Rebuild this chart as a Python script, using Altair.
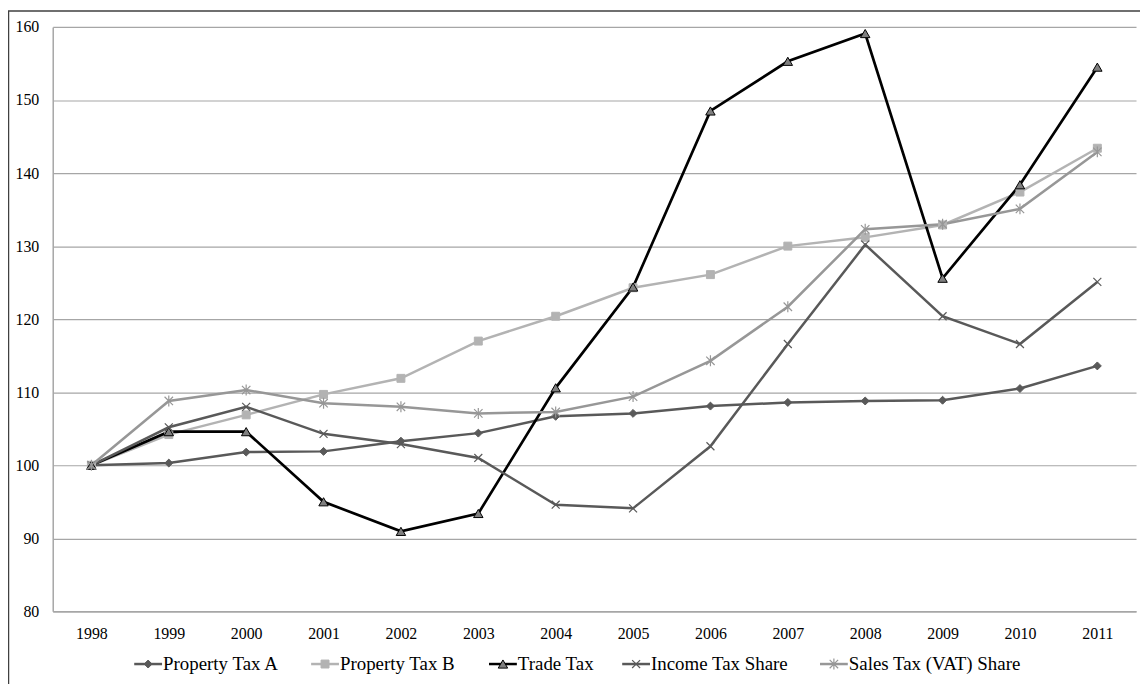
import altair as alt
import pandas as pd

years = [str(y) for y in range(1998, 2012)]

property_tax_a = [100, 100.3, 101.8, 101.9, 103.3, 104.4, 106.7, 107.1, 108.1, 108.6, 108.8, 108.9, 110.5, 113.6]
property_tax_b = [100, 104.2, 106.9, 109.7, 111.9, 117.0, 120.4, 124.3, 126.1, 130.0, 131.2, 132.9, 137.4, 143.4]
trade_tax = [100, 104.6, 104.6, 95.0, 90.95, 93.4, 110.6, 124.4, 148.5, 155.3, 159.1, 125.6, 138.4, 154.5]
income_tax_share = [100, 105.2, 108.0, 104.3, 102.9, 101.0, 94.6, 94.1, 102.6, 116.6, 130.2, 120.4, 116.6, 125.1]
sales_tax_share = [100, 108.8, 110.3, 108.5, 108.0, 107.1, 107.3, 109.4, 114.3, 121.7, 132.3, 133.0, 135.1, 142.9]

series_names = ["Property Tax A", "Property Tax B", "Trade Tax", "Income Tax Share", "Sales Tax (VAT) Share"]
series_values = [property_tax_a, property_tax_b, trade_tax, income_tax_share, sales_tax_share]

# styling per series
line_colors = ["#595959", "#b3b3b3", "#000000", "#595959", "#979797"]
marker_fill = ["#595959", "#b3b3b3", "#7f7f7f", None, None]
marker_stroke = ["#595959", "#b3b3b3", "#000000", "#595959", "#979797"]
marker_shape = [
    "diamond",
    "square",
    "triangle-up",
    "M-1,-1L1,1M-1,1L1,-1",
    "M-1,-1L1,1M-1,1L1,-1M0,-1.3L0,1.3",
]
marker_size = [64, 64, 90, 64, 72]
line_width = [2.5, 2.5, 2.7, 2.5, 2.5]

rows = []
for name, vals in zip(series_names, series_values):
    for y, v in zip(years, vals):
        rows.append({"year": y, "value": v, "series": name})
df = pd.DataFrame(rows)

FONT = "Liberation Serif"
W, H = 1090, 588

x_enc = alt.X("year:O", sort=years,
              scale=alt.Scale(type="point", padding=0.5),
              axis=alt.Axis(title=None, labelAngle=0, domain=True, domainColor="#a6a6a6",
                            domainWidth=1.5, ticks=False, grid=False, labelFont=FONT,
                            labelFontSize=16, labelColor="#000000", labelPadding=14))
y_enc = alt.Y("value:Q", scale=alt.Scale(domain=[80, 160], nice=False, zero=False),
              axis=alt.Axis(title=None, values=list(range(80, 161, 10)), domain=True,
                            domainColor="#a6a6a6", domainWidth=1.5, ticks=False, grid=True,
                            gridColor="#a6a6a6", gridWidth=1.2, labelFont=FONT, labelFontSize=16,
                            labelColor="#000000", labelPadding=14))

base = alt.Chart(df)
layers = []
for i, name in enumerate(series_names):
    sub = base.transform_filter(alt.datum.series == name)
    layers.append(sub.mark_line(color=line_colors[i], strokeWidth=line_width[i]).encode(x=x_enc, y=y_enc))
for i, name in enumerate(series_names):
    sub = base.transform_filter(alt.datum.series == name)
    if marker_fill[i] is not None:
        pt = sub.mark_point(shape=marker_shape[i], filled=True, fill=marker_fill[i],
                            stroke=marker_stroke[i], strokeWidth=1, size=marker_size[i], opacity=1)
    else:
        pt = sub.mark_point(shape=marker_shape[i], filled=False, stroke=marker_stroke[i],
                            strokeWidth=1.2, size=marker_size[i], opacity=1)
    layers.append(pt.encode(x=x_enc, y=y_enc))

# manual legend (layout positions relative to plot origin)
leg_y = 641
leg_line_start = [82, 260, 439, 573, 772]
sym_w = 28
one = pd.DataFrame({"k": [0]})
for i, name in enumerate(series_names):
    x0 = leg_line_start[i]
    c = alt.Chart(one)
    layers.append(c.mark_rule(color=line_colors[i], strokeWidth=2.5).encode(
        x=alt.value(x0), x2=alt.value(x0 + sym_w), y=alt.value(leg_y)))
    if marker_fill[i] is not None:
        m = c.mark_point(shape=marker_shape[i], filled=True, fill=marker_fill[i],
                         stroke=marker_stroke[i], strokeWidth=1, size=marker_size[i], opacity=1)
    else:
        m = c.mark_point(shape=marker_shape[i], filled=False, stroke=marker_stroke[i],
                         strokeWidth=1.2, size=marker_size[i], opacity=1)
    layers.append(m.encode(x=alt.value(x0 + sym_w / 2), y=alt.value(leg_y)))
    layers.append(c.mark_text(text=name, font=FONT, fontSize=19, color="#000000",
                              align="left", baseline="middle").encode(
        x=alt.value(x0 + sym_w + 1), y=alt.value(leg_y)))

# outer frame
layers.append(alt.Chart(one).mark_rect(fill=None, stroke="#404040", strokeWidth=1.5).encode(
    x=alt.value(-44.5), x2=alt.value(W + 60), y=alt.value(-16), y2=alt.value(H + 120)))

chart = alt.layer(*layers).properties(
    width=W, height=H,
    autosize=alt.AutoSizeParams(type="none"),
    padding={"left": 45, "top": 17, "right": 4, "bottom": 71},
).configure_view(stroke=None)

chart.save("out.html", embed_options={"renderer": "svg", "actions": False})
